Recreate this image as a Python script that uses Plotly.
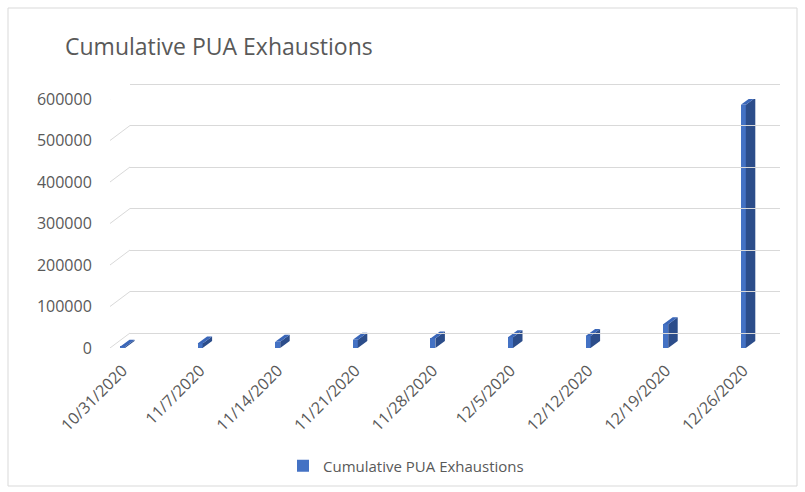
import plotly.graph_objects as go

# ---- data ----
dates = ["10/31/2020", "11/7/2020", "11/14/2020", "11/21/2020", "11/28/2020",
         "12/5/2020", "12/12/2020", "12/19/2020", "12/26/2020"]
values = [3000, 11000, 15000, 20000, 23000, 26000, 29000, 57000, 586000]
series_name = "Cumulative PUA Exhaustions"
y_ticks = [0, 100000, 200000, 300000, 400000, 500000, 600000]

# ---- geometry (pixels) ----
W, H = 805, 492
L, R, T, B = 108, 782, 80, 350          # plot area
front_bottom, front_top = 348, 99        # pixels of 0 / 600000 on front plane
back_left, back_right = 130, 780
back_bottom, back_top = 333, 84
PW, PH = R - L, B - T
cat_px = 77.6                            # pixels per category
first_px = 122.5                         # pixel of first category
x_lo = -(first_px - L) / cat_px
x_hi = x_lo + PW / cat_px
ymax = 600000
upp = ymax / (front_bottom - front_top)  # data units per pixel

fw = 5 / cat_px                          # front face width (category units)
dx = 9.5 / cat_px                        # depth offset in x
dyv = 7 * upp                            # depth offset in y (data units)

FRONT = "#4472C4"
SIDE = "#2C4D8A"
TOP = "#3A66B8"
TXT = "#595959"
GRID = "#D9D9D9"

fig = go.Figure()

# back wall grid (secondary axes), invisible helper trace
fig.add_trace(go.Scatter(x=[0], y=[0], xaxis="x2", yaxis="y2", mode="markers",
                         marker=dict(opacity=0), showlegend=False, hoverinfo="skip"))

# side and top faces of the columns
sx, sy, tx, ty = [], [], [], []
for i, v in enumerate(values):
    r = i + fw / 2
    l = i - fw / 2
    sx += [r, r + dx, r + dx, r, r, None]
    sy += [0, dyv, v + dyv, v, 0, None]
    tx += [l, r, r + dx, l + dx, l, None]
    ty += [v, v, v + dyv, v + dyv, v, None]

fig.add_trace(go.Scatter(x=sx, y=sy, fill="toself", fillcolor=SIDE, mode="lines",
                         line=dict(width=0, color=SIDE), showlegend=False, hoverinfo="skip"))
fig.add_trace(go.Scatter(x=tx, y=ty, fill="toself", fillcolor=TOP, mode="lines",
                         line=dict(width=0, color=TOP), showlegend=False, hoverinfo="skip"))
fig.add_trace(go.Bar(x=list(range(len(dates))), y=values, width=fw, name=series_name,
                     marker=dict(color=FRONT, line=dict(width=0))))

# connectors from front labels to back wall
dy_px = front_bottom - back_bottom
shapes = []
for v in y_ticks:
    shapes.append(dict(type="line", xref="paper", yref="y",
                       xsizemode="pixel", xanchor=(110 - L) / PW, x0=0, x1=back_left - 110,
                       ysizemode="pixel", yanchor=v, y0=0, y1=dy_px,
                       line=dict(color=GRID, width=1)))
# outer chart border
shapes.append(dict(type="rect", xref="paper", yref="paper",
                   x0=(8 - L) / PW, x1=(797 - L) / PW,
                   y0=(B - 486) / PH, y1=(B - 8) / PH,
                   line=dict(color=GRID, width=1), fillcolor="rgba(0,0,0,0)", layer="below"))

font_family = "Open Sans, Liberation Sans, sans-serif"

fig.update_layout(
    width=W, height=H,
    margin=dict(l=L, r=W - R, t=T, b=H - B),
    paper_bgcolor="white", plot_bgcolor="rgba(0,0,0,0)",
    font=dict(family=font_family, color=TXT),
    title=dict(text=series_name, x=65 / W, xanchor="left", xref="container",
               y=1 - 47 / H, yanchor="middle", yref="container",
               font=dict(size=23, color=TXT)),
    xaxis=dict(domain=[0, 1], range=[x_lo, x_hi], tickmode="array",
               tickvals=list(range(len(dates))), ticktext=dates, tickangle=-45,
               showgrid=False, zeroline=False, showline=False,
               ticks="outside", ticklen=6, tickcolor="rgba(0,0,0,0)",
               tickfont=dict(size=16, color=TXT)),
    yaxis=dict(domain=[(B - front_bottom) / PH, (B - front_top) / PH],
               range=[0, ymax], tickmode="array",
               tickvals=y_ticks, ticktext=[str(v) for v in y_ticks],
               showgrid=False, zeroline=False, showline=False,
               ticks="outside", ticklen=12, tickcolor="rgba(0,0,0,0)",
               tickfont=dict(size=16, color=TXT)),
    xaxis2=dict(domain=[(back_left - L) / PW, (back_right - L) / PW], range=[0, 1],
                anchor="y2", showticklabels=False, showgrid=False, zeroline=False,
                showline=False, ticks=""),
    yaxis2=dict(domain=[(B - back_bottom - 3) / PH, (B - back_top + 3) / PH],
                range=[-3 * upp, ymax + 3 * upp], anchor="x2",
                tickmode="array", tickvals=y_ticks, showticklabels=False,
                showgrid=True, gridcolor=GRID, gridwidth=1, zeroline=False,
                showline=False, ticks=""),
    showlegend=True,
    legend=dict(orientation="h", x=283 / W, xanchor="left", xref="container",
                y=1 - 466 / H, yanchor="middle", yref="container",
                font=dict(size=15, color=TXT), bgcolor="rgba(0,0,0,0)"),
    shapes=shapes,
    bargap=0,
)

fig.write_html("out.html", config={"displayModeBar": False},
               post_script="document.body.style.margin='0';")
